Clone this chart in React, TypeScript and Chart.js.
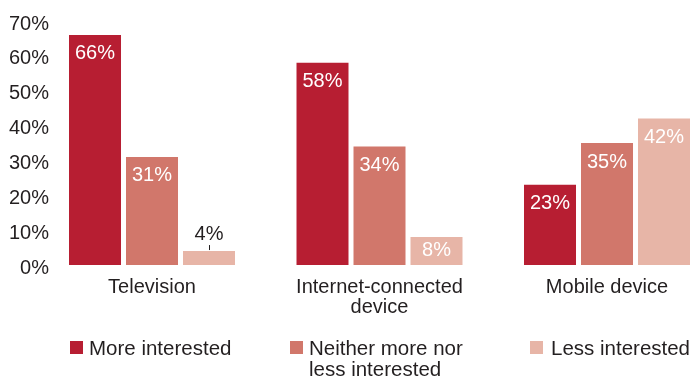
import React, { useEffect, useRef } from 'react';
import { Chart, registerables } from 'chart.js';

Chart.register(...registerables);

// ---- data ----
const categories: string[][] = [['Television'], ['Internet-connected', 'device'], ['Mobile device']];
const seriesNames: string[] = ['More interested', 'Neither more nor less interested', 'Less interested'];
const legendLines: string[][] = [['More interested'], ['Neither more nor', 'less interested'], ['Less interested']];
const moreInterested: number[] = [66, 58, 23];
const neitherMoreNorLess: number[] = [31, 34, 35];
const lessInterested: number[] = [4, 8, 42];
const yTickValues: number[] = [0, 10, 20, 30, 40, 50, 60, 70];

const seriesValues = [moreInterested, neitherMoreNorLess, lessInterested];
const seriesColors = ['#B71E32', '#D1776B', '#E7B5A7'];

const FONT = '"Liberation Sans", Arial, Helvetica, sans-serif';
const TEXT = '#231F20';
const OUTSIDE_LABEL_BELOW = 5;

const W = 690;
const H = 376;

const labelPlugin = {
  id: 'barValueLabels',
  afterDatasetsDraw(chart: any) {
    const ctx = chart.ctx as CanvasRenderingContext2D;
    ctx.save();
    ctx.font = `20px ${FONT}`;
    ctx.textAlign = 'center';
    ctx.textBaseline = 'middle';
    chart.data.datasets.forEach((_ds: any, di: number) => {
      const meta = chart.getDatasetMeta(di);
      meta.data.forEach((bar: any, i: number) => {
        const v = seriesValues[di][i];
        const { x, y, base } = bar.getProps(['x', 'y', 'base'], true);
        const h = base - y;
        const text = `${v}%`;
        if (v < OUTSIDE_LABEL_BELOW) {
          ctx.strokeStyle = TEXT;
          ctx.lineWidth = 1;
          ctx.beginPath();
          ctx.moveTo(Math.round(x) + 0.5, y - 6);
          ctx.lineTo(Math.round(x) + 0.5, y - 1);
          ctx.stroke();
          ctx.fillStyle = TEXT;
          ctx.fillText(text, x, y - 17);
        } else {
          ctx.fillStyle = '#FFFFFF';
          ctx.fillText(text, x, y + 2 + Math.min(17, h / 2 - 2.5));
        }
      });
    });
    ctx.restore();
  },
};

export default function App() {
  const canvasRef = useRef<HTMLCanvasElement | null>(null);

  useEffect(() => {
    document.body.style.margin = '0';
    const canvas = canvasRef.current;
    if (!canvas) return;
    const chart = new Chart(canvas, {
      type: 'bar',
      data: {
        datasets: seriesValues.map((vals, di) => ({
          label: seriesNames[di],
          data: vals.map((v, i) => ({ x: i, y: v })),
          backgroundColor: seriesColors[di],
          borderWidth: 0,
          categoryPercentage: 171 / 227.5,
          barPercentage: 52 / 57,
        })),
      },
      options: {
        responsive: false,
        animation: false,
        devicePixelRatio: 1,
        layout: { padding: { top: 21, left: 0, right: 0, bottom: 0 } },
        plugins: {
          legend: { display: false },
          tooltip: { enabled: false },
        },
        scales: {
          x: {
            type: 'linear',
            offset: false,
            min: -0.4264,
            max: 2.3648,
            grid: { display: false, drawTicks: false, offset: false },
            border: { display: false },
            afterBuildTicks: (axis: any) => {
              axis.ticks = categories.map((_c, i) => ({ value: i }));
            },
            afterFit: (axis: any) => {
              axis.height = 111;
              axis.paddingLeft = 0;
              axis.paddingRight = 0;
            },
            ticks: {
              autoSkip: false,
              maxRotation: 0,
              minRotation: 0,
              padding: 12,
              color: TEXT,
              font: { family: FONT, size: 20, lineHeight: 1.0 },
              callback: (value: any) => categories[Math.round(Number(value))] ?? '',
            },
          },
          y: {
            min: 0,
            max: 70,
            grid: { display: false, drawTicks: false },
            border: { display: false },
            afterBuildTicks: (axis: any) => {
              axis.ticks = yTickValues.map((v) => ({ value: v }));
            },
            afterFit: (axis: any) => {
              axis.width = 55;
              axis.paddingTop = 0;
              axis.paddingBottom = 0;
            },
            ticks: {
              padding: 6,
              labelOffset: 3,
              color: TEXT,
              font: { family: FONT, size: 20 },
              callback: (value: any) => `${value}%`,
            },
          },
        },
      },
      plugins: [labelPlugin],
    } as any);
    return () => chart.destroy();
  }, []);

  const legendSquareX = [70, 290, 530];
  const legendTextX = [89, 309, 551];

  return (
    <div style={{ position: 'relative', width: W, height: H, overflow: 'hidden' }}>
      <canvas ref={canvasRef} width={W} height={H} style={{ display: 'block' }} />
      {legendLines.map((lines, i) => (
        <React.Fragment key={i}>
          <div
            style={{
              position: 'absolute',
              left: legendSquareX[i],
              top: 341,
              width: 13,
              height: 13,
              background: seriesColors[i],
            }}
          />
          <div
            style={{
              position: 'absolute',
              left: legendTextX[i],
              top: 337,
              fontFamily: FONT,
              fontSize: 20.5,
              lineHeight: '21px',
              color: TEXT,
              whiteSpace: 'nowrap',
            }}
          >
            {lines.map((l, j) => (
              <div key={j}>{l}</div>
            ))}
          </div>
        </React.Fragment>
      ))}
    </div>
  );
}
